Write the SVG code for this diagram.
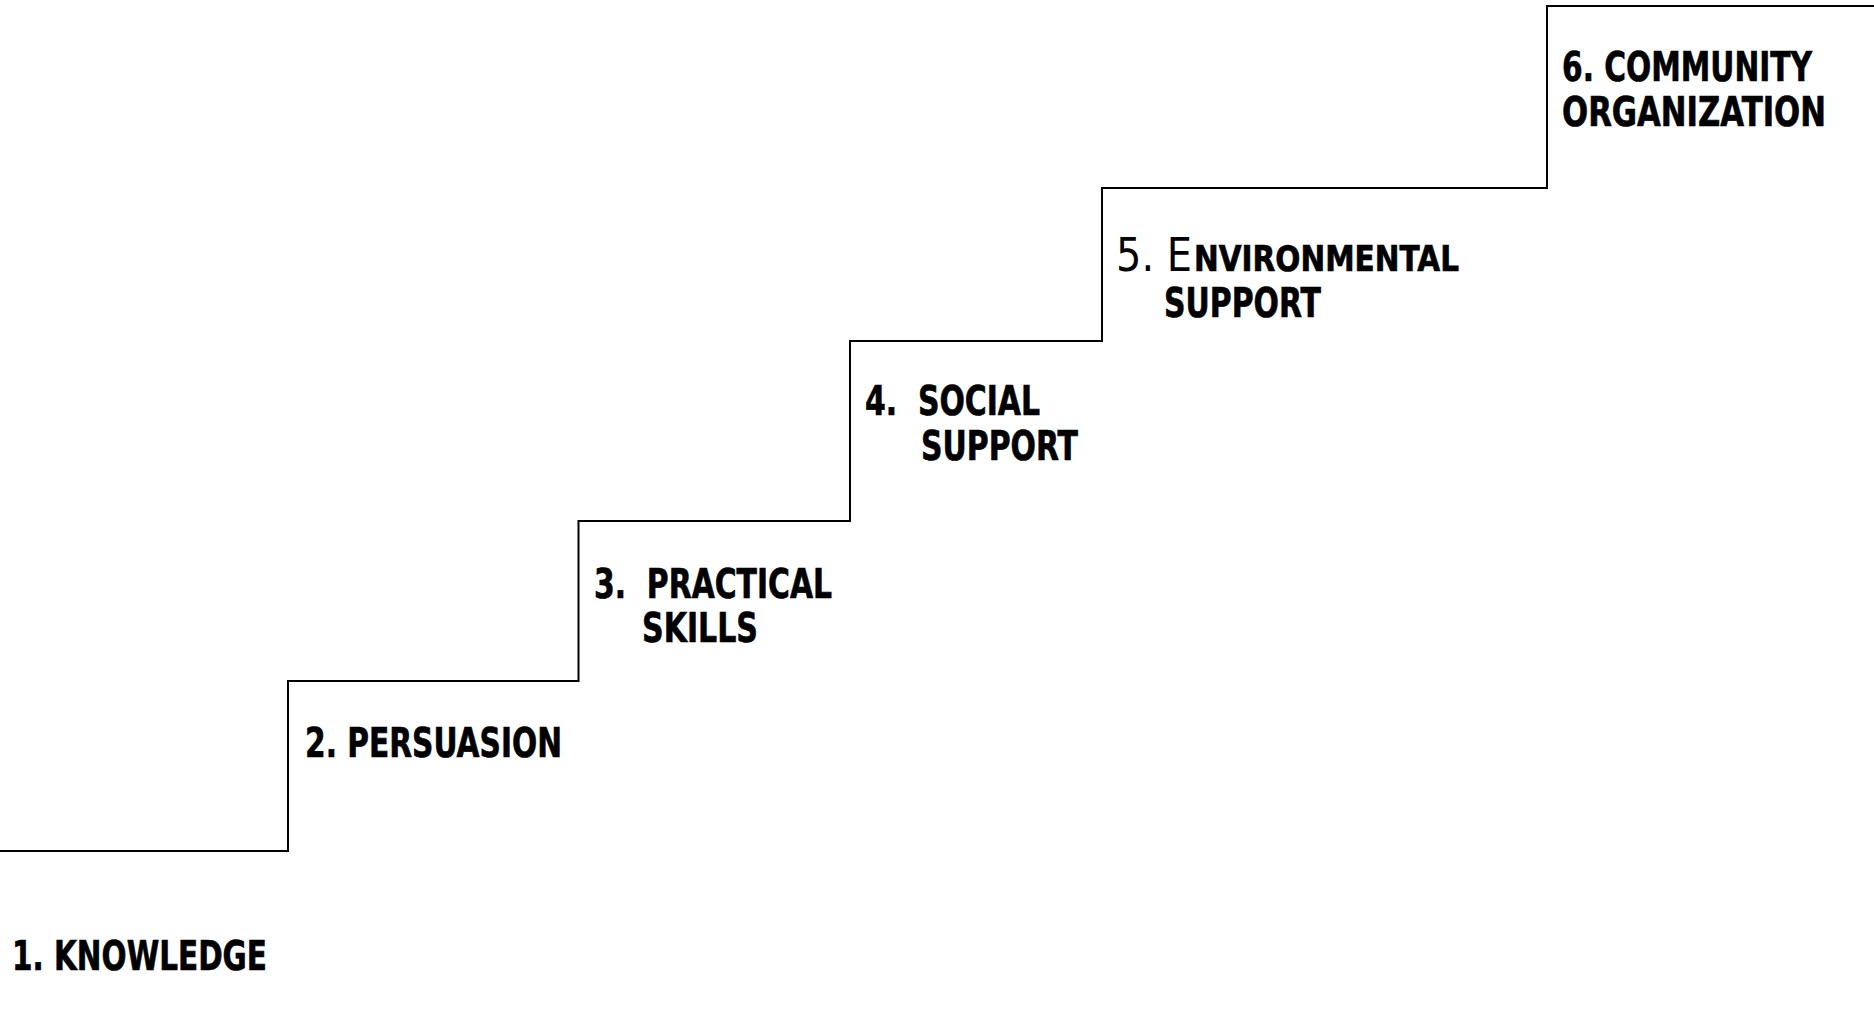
<svg xmlns="http://www.w3.org/2000/svg" width="1874" height="1021" viewBox="0 0 1874 1021">
<style>
.b{font-family:"DejaVu Sans","Liberation Sans",sans-serif;font-weight:bold;font-size:40px;fill:#000;stroke:#000;stroke-width:0.7px;white-space:pre}
.r{font-family:"DejaVu Sans","Liberation Sans",sans-serif;font-weight:normal;font-size:46px;fill:#000;white-space:pre}
.sc{font-family:"DejaVu Sans","Liberation Sans",sans-serif;font-weight:bold;font-size:35px;fill:#000;stroke:#000;stroke-width:0.7px}
.stair{fill:none;stroke:#000;stroke-width:2}
</style>
<rect width="1874" height="1021" fill="#fff"/>
<g id="connectors">
<path class="stair" d="M0,851 H288 V681 H578.5 V521 H850 V341 H1102 V188 H1547 V6 H1874"/>
</g>
<g id="step1">
<text class="b" x="12" y="970" textLength="255" lengthAdjust="spacingAndGlyphs">1. KNOWLEDGE</text>
</g>
<g id="step2">
<text class="b" x="305" y="757" textLength="257" lengthAdjust="spacingAndGlyphs">2. PERSUASION</text>
</g>
<g id="step3">
<text class="b" x="594" y="598" textLength="238" lengthAdjust="spacingAndGlyphs">3.  PRACTICAL</text>
<text class="b" x="642" y="642" textLength="116" lengthAdjust="spacingAndGlyphs">SKILLS</text>
</g>
<g id="step4">
<text class="b" x="865" y="415" textLength="175" lengthAdjust="spacingAndGlyphs">4.  SOCIAL</text>
<text class="b" x="921" y="460" textLength="157" lengthAdjust="spacingAndGlyphs">SUPPORT</text>
</g>
<g id="step5">
<text y="271"><tspan class="r" x="1116" textLength="76" lengthAdjust="spacingAndGlyphs">5. E</tspan><tspan class="sc" x="1194" textLength="265" lengthAdjust="spacingAndGlyphs">NVIRONMENTAL</tspan></text>
<text class="b" x="1164" y="317" textLength="157" lengthAdjust="spacingAndGlyphs">SUPPORT</text>
</g>
<g id="step6">
<text class="b" x="1562" y="81" textLength="250" lengthAdjust="spacingAndGlyphs">6. COMMUNITY</text>
<text class="b" x="1562" y="126" textLength="264" lengthAdjust="spacingAndGlyphs">ORGANIZATION</text>
</g>
</svg>
